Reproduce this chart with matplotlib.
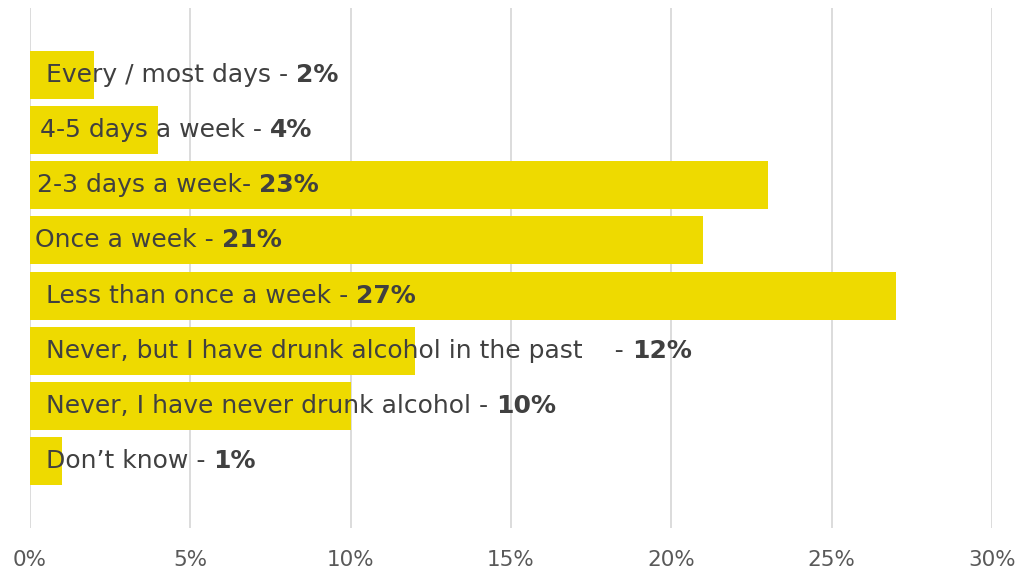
import matplotlib
matplotlib.use("Agg")
from matplotlib import pyplot as plt
from matplotlib.ticker import FuncFormatter

categories = [
    "Every / most days",
    "4-5 days a week",
    "2-3 days a week",
    "Once a week",
    "Less than once a week",
    "Never, but I have drunk alcohol in the past",
    "Never, I have never drunk alcohol",
    "Don\u2019t know",
]
separators = [" - ", " - ", "- ", " - ", " - ", "    - ", " - ", " - "]
values = [2, 4, 23, 21, 27, 12, 10, 1]
xticks = [0, 5, 10, 15, 20, 25, 30]

# label start offsets (px from the zero line), as in the original
label_pad = [16, 10, 7, 5, 16, 16, 16, 16]

bar_color = "#EEDA00"
text_color = "#404040"

plt.rcParams['font.family'] = ['DejaVu Sans']

fig = plt.figure(figsize=(10.22, 5.74), dpi=100)
ax = fig.add_axes([30 / 1022, 46 / 574, 962 / 1022, 520 / 574])

pos = list(range(len(values)))
ax.barh(pos, values, height=0.87, color=bar_color, zorder=2)

for i, (cat, sep, v) in enumerate(zip(categories, separators, values)):
    t = ax.annotate(cat + sep, xy=(0, i), xytext=(label_pad[i] * 0.72, 0),
                    textcoords="offset points", va="center", ha="left",
                    fontsize=18, color=text_color, zorder=3)
    ax.annotate(f"{v}%", xy=(1, 0), xycoords=t, va="bottom", ha="left",
                fontsize=18, fontweight="bold", color=text_color, zorder=3)

ax.set_xlim(0, 30)
ax.set_ylim(8.22, -1.22)
ax.set_xticks(xticks)
ax.xaxis.set_major_formatter(FuncFormatter(lambda x, p: f"{x:.0f}%"))
ax.set_yticks([])
ax.tick_params(axis="x", length=0, pad=16, labelsize=15.5, labelcolor="#595959")
ax.grid(axis="x", color="#D9D9D9", linewidth=1.3, zorder=0)
ax.set_axisbelow(True)
for s in ax.spines.values():
    s.set_visible(False)

fig.savefig("out.png", dpi=100)
